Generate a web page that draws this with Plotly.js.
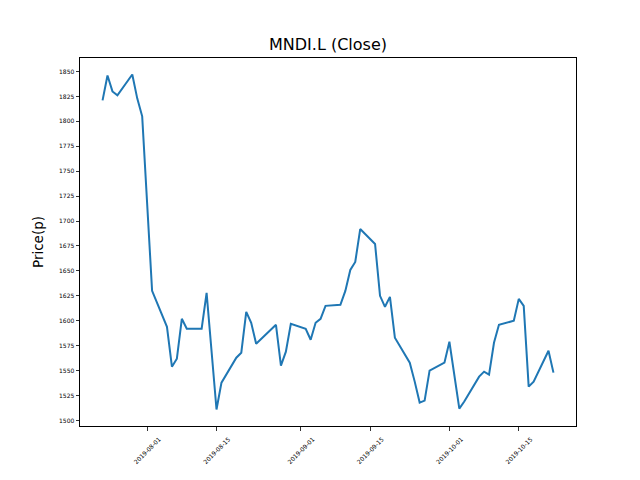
<!DOCTYPE html>
<html>
<head>
<meta charset="utf-8">
<script src="https://cdn.plot.ly/plotly-3.0.1.min.js"></script>
<style>html,body{margin:0;padding:0;background:#fff;}#chart{width:640px;height:480px;}</style>
</head>
<body>
<div id="chart"></div>
<script>
const dates = ["2019-07-23","2019-07-24","2019-07-25","2019-07-26","2019-07-29","2019-07-30","2019-07-31",
"2019-08-02","2019-08-05","2019-08-06","2019-08-07","2019-08-08","2019-08-09","2019-08-12","2019-08-13",
"2019-08-15","2019-08-16","2019-08-19","2019-08-20","2019-08-21","2019-08-22","2019-08-23","2019-08-27",
"2019-08-28","2019-08-29","2019-08-30","2019-09-02","2019-09-03","2019-09-04","2019-09-05","2019-09-06",
"2019-09-09","2019-09-10","2019-09-11","2019-09-12","2019-09-13","2019-09-16","2019-09-17","2019-09-18",
"2019-09-19","2019-09-20","2019-09-23","2019-09-24","2019-09-25","2019-09-26","2019-09-27","2019-09-30",
"2019-10-01","2019-10-03","2019-10-04","2019-10-07","2019-10-08","2019-10-09","2019-10-10","2019-10-11",
"2019-10-14","2019-10-15","2019-10-16","2019-10-17","2019-10-18","2019-10-21","2019-10-22"];
const closes = [1821,1846,1830,1826,1847,1823,1805,
1630,1594,1554,1562,1602,1592,1592,1628,
1511,1538,1563,1568,1609,1598,1577,1596,
1555,1569,1597,1592,1581,1598,1602,1615,
1616,1630,1651,1659,1692,1677,1625,1614,
1624,1583,1558,1539,1518,1520,1550,1558,
1579,1512,1519,1544,1549,1546,1578,1596,
1600,1622,1615,1534,1539,1570,1548];
const xTickVals = ["2019-08-01","2019-08-15","2019-09-01","2019-09-15","2019-10-01","2019-10-15"];
const yTickVals = [1500,1525,1550,1575,1600,1625,1650,1675,1700,1725,1750,1775,1800,1825,1850];

const trace = {x: dates, y: closes, type: 'scatter', mode: 'lines',
  line: {color: '#1f77b4', width: 2}, hoverinfo: 'skip'};

const layout = {
  width: 640, height: 480,
  paper_bgcolor: '#fff', plot_bgcolor: '#fff',
  margin: {l: 80, r: 64, t: 58, b: 54},
  font: {family: 'DejaVu Sans', color: '#000'},
  showlegend: false,
  title: {text: 'MNDI.L (Close)', font: {size: 16, family: 'DejaVu Sans', color: '#000'},
    x: 0.5, xanchor: 'center', xref: 'paper', y: 0.908, yanchor: 'middle', yref: 'container'},
  xaxis: {type: 'date', range: ['2019-07-18 10:48', '2019-10-26 13:12'],
    tickvals: xTickVals, ticktext: xTickVals,
    tickangle: -45, tickfont: {size: 6, color: '#000'}, ticklabelshift: 12, ticklabelstandoff: 3,
    showgrid: false, zeroline: false, showline: true, linecolor: '#000', linewidth: 1, mirror: true,
    ticks: 'outside', ticklen: 3.5, tickwidth: 0.8, tickcolor: '#000'},
  yaxis: {range: [1494.5, 1863.5], tickvals: yTickVals,
    tickfont: {size: 6, color: '#000'},
    title: {text: 'Price(p)', font: {size: 13.5, color: '#000'}, standoff: 12},
    showgrid: false, zeroline: false, showline: true, linecolor: '#000', linewidth: 1, mirror: true,
    ticks: 'outside', ticklen: 3.5, tickwidth: 0.8, tickcolor: '#000'}
};
Plotly.newPlot('chart', [trace], layout, {staticPlot: true, displayModeBar: false});
</script>
</body>
</html>
